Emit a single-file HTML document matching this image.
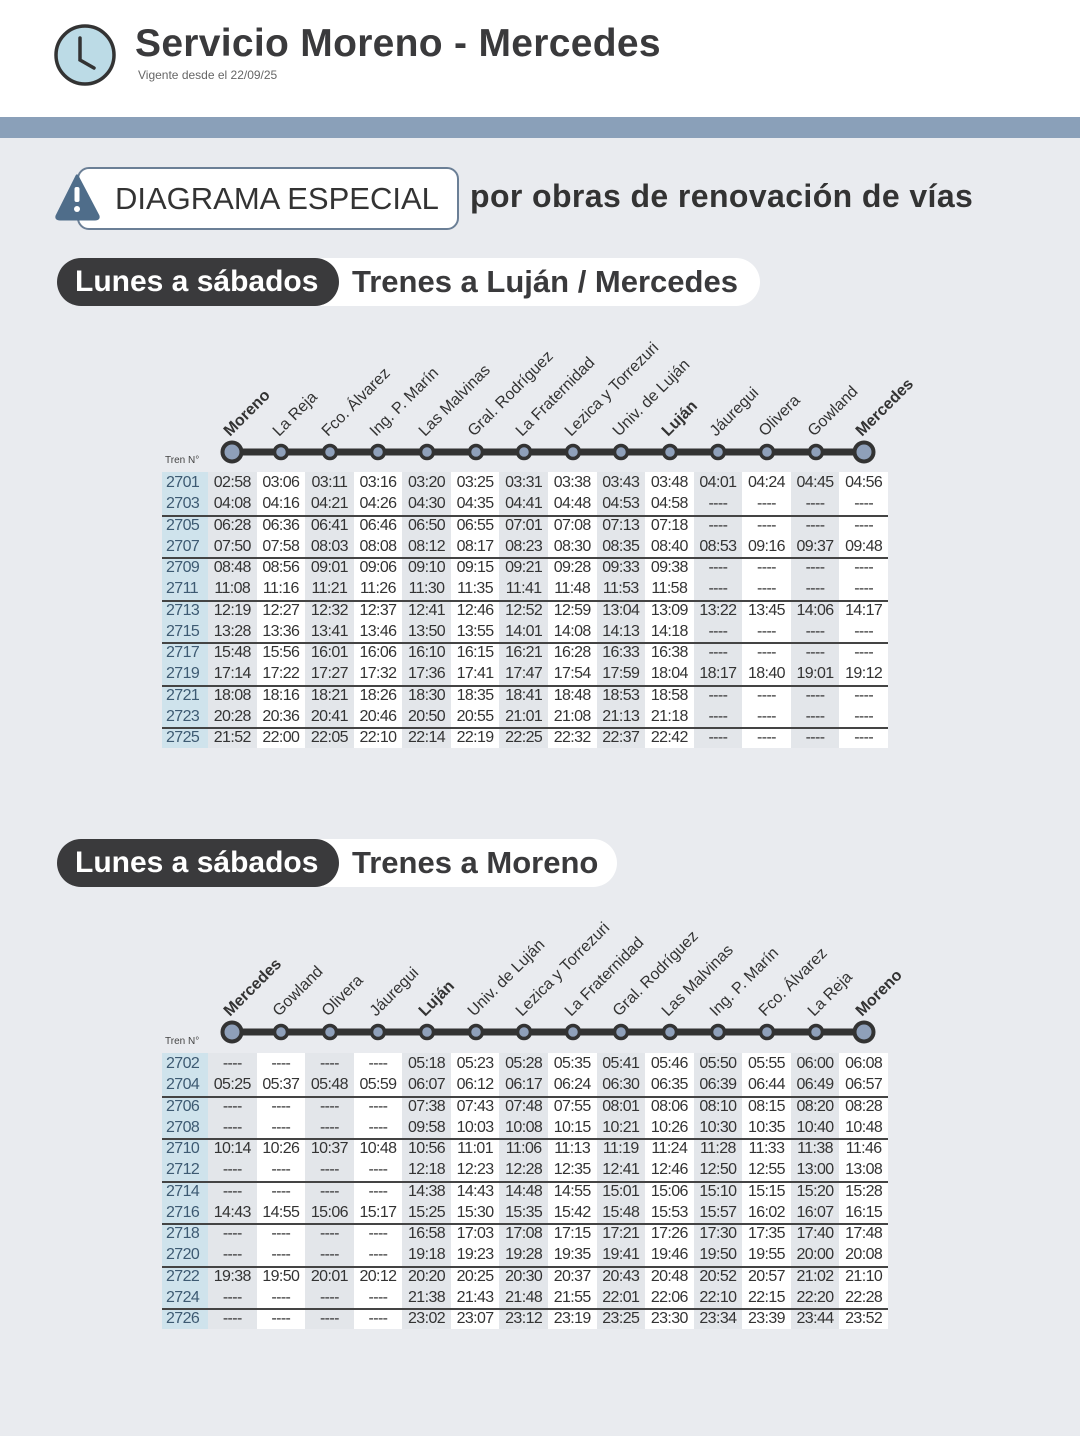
<!DOCTYPE html>
<html><head><meta charset="utf-8"><style>
*{margin:0;padding:0;box-sizing:border-box}
body{width:1080px;height:1436px;background:#e9ebef;position:relative;overflow:hidden;font-family:"Liberation Sans",sans-serif;color:#333}
.hdr{position:absolute;left:0;top:0;width:1080px;height:117px;background:#fff}
.band{position:absolute;left:0;top:117px;width:1080px;height:21px;background:#8aa0b9}
.title{position:absolute;left:135px;top:22px;font:bold 39px "Liberation Sans",sans-serif;color:#3a3a3c;letter-spacing:0.3px}
.sub{position:absolute;left:138px;top:68px;font:12px "Liberation Sans",sans-serif;color:#666}
.box{position:absolute;left:77px;top:167px;width:382px;height:63px;border:2px solid #6b7f96;border-radius:12px;background:#fff;font:31px "Liberation Sans",sans-serif;line-height:59px;padding-left:36px;color:#333;white-space:nowrap}
.por{position:absolute;left:470px;top:178px;font:bold 32px "Liberation Sans",sans-serif;color:#333;letter-spacing:0.4px;white-space:nowrap}
.wp{position:absolute;height:48px;background:#fff;border-radius:24px;font:bold 31px "Liberation Sans",sans-serif;line-height:48px;color:#3a3a3c;white-space:nowrap}
.dp{position:absolute;left:57px;width:282px;height:48px;background:#3a3a3c;border-radius:24px;font:bold 30px "Liberation Sans",sans-serif;line-height:48px;color:#fff;padding-left:18px;white-space:nowrap}
table{position:absolute;left:162px;border-collapse:collapse;table-layout:fixed;width:726px}
td{height:21.25px;padding:0;font-size:16px;letter-spacing:-0.6px;line-height:21px;text-align:center;background:#fff;white-space:nowrap;color:#333}
td:nth-child(1){width:46px;background:#cfe3ec;color:#3d5a72;text-align:left;padding-left:4px}
td:nth-child(even){background:#e3e6ea}
tr.s td{box-shadow:inset 0 2px #444}
.tn{position:absolute;left:165px;font:10px "Liberation Sans",sans-serif;color:#444}
svg{position:absolute;left:0;top:0}
svg text{font-family:"Liberation Sans",sans-serif;font-size:16px;fill:#333}
</style></head><body>
<div class="hdr"></div><div class="band"></div>
<div class="title">Servicio Moreno - Mercedes</div>
<div class="sub">Vigente desde el 22/09/25</div>
<div class="box">DIAGRAMA ESPECIAL</div>
<div class="por">por obras de renovación de vías</div>
<div class="wp" style="left:300px;top:258px;width:460px;padding-left:52px">Trenes a Luján / Mercedes</div>
<div class="dp" style="top:258px">Lunes a sábados</div>
<div class="wp" style="left:300px;top:839px;width:317px;padding-left:52px">Trenes a Moreno</div>
<div class="dp" style="top:839px">Lunes a sábados</div>
<div class="tn" style="top:455px">Tren N°</div>
<div class="tn" style="top:1036px">Tren N°</div>

<svg width="1080" height="1436" viewBox="0 0 1080 1436">
<circle cx="85" cy="55" r="29" fill="#bcdbe6" stroke="#333" stroke-width="3.5"/>
<path d="M80 38 V60 L94 68" fill="none" stroke="#333" stroke-width="3.5" stroke-linecap="round"/>
<path d="M77 176 L98 216 Q99 219 95 219 L60 219 Q56 219 57 216 Z" fill="#4f6d8a" stroke="#4f6d8a" stroke-width="3" stroke-linejoin="round"/>
<rect x="74.5" y="187" width="5" height="15" rx="2" fill="#fff"/><circle cx="77" cy="209" r="3" fill="#fff"/>

<line x1="232" y1="452" x2="864" y2="452" stroke="#333" stroke-width="7"/>
<g fill="#8fa0ba" stroke="#333" stroke-width="3.5">
<circle cx="232" cy="452" r="9.5" stroke-width="4"/><circle cx="281" cy="452" r="6.5"/><circle cx="330" cy="452" r="6.5"/><circle cx="378" cy="452" r="6.5"/><circle cx="427" cy="452" r="6.5"/><circle cx="476" cy="452" r="6.5"/><circle cx="524" cy="452" r="6.5"/><circle cx="573" cy="452" r="6.5"/><circle cx="621" cy="452" r="6.5"/><circle cx="670" cy="452" r="6.5"/><circle cx="718" cy="452" r="6.5"/><circle cx="767" cy="452" r="6.5"/><circle cx="816" cy="452" r="6.5"/><circle cx="864" cy="452" r="9.5" stroke-width="4"/>
</g>
<text transform="translate(230,437) rotate(-45)" font-weight="bold">Moreno</text>
<text transform="translate(279,437) rotate(-45)">La Reja</text>
<text transform="translate(328,437) rotate(-45)">Fco. Álvarez</text>
<text transform="translate(376,437) rotate(-45)">Ing. P. Marín</text>
<text transform="translate(425,437) rotate(-45)">Las Malvinas</text>
<text transform="translate(474,437) rotate(-45)">Gral. Rodríguez</text>
<text transform="translate(522,437) rotate(-45)">La Fraternidad</text>
<text transform="translate(571,437) rotate(-45)">Lezica y Torrezuri</text>
<text transform="translate(619,437) rotate(-45)">Univ. de Luján</text>
<text transform="translate(668,437) rotate(-45)" font-weight="bold">Luján</text>
<text transform="translate(716,437) rotate(-45)">Jáuregui</text>
<text transform="translate(765,437) rotate(-45)">Olivera</text>
<text transform="translate(814,437) rotate(-45)">Gowland</text>
<text transform="translate(862,437) rotate(-45)" font-weight="bold">Mercedes</text>

<line x1="232" y1="1032" x2="864" y2="1032" stroke="#333" stroke-width="7"/>
<g fill="#8fa0ba" stroke="#333" stroke-width="3.5">
<circle cx="232" cy="1032" r="9.5" stroke-width="4"/><circle cx="281" cy="1032" r="6.5"/><circle cx="330" cy="1032" r="6.5"/><circle cx="378" cy="1032" r="6.5"/><circle cx="427" cy="1032" r="6.5"/><circle cx="476" cy="1032" r="6.5"/><circle cx="524" cy="1032" r="6.5"/><circle cx="573" cy="1032" r="6.5"/><circle cx="621" cy="1032" r="6.5"/><circle cx="670" cy="1032" r="6.5"/><circle cx="718" cy="1032" r="6.5"/><circle cx="767" cy="1032" r="6.5"/><circle cx="816" cy="1032" r="6.5"/><circle cx="864" cy="1032" r="9.5" stroke-width="4"/>
</g>
<text transform="translate(230,1017) rotate(-45)" font-weight="bold">Mercedes</text>
<text transform="translate(279,1017) rotate(-45)">Gowland</text>
<text transform="translate(328,1017) rotate(-45)">Olivera</text>
<text transform="translate(376,1017) rotate(-45)">Jáuregui</text>
<text transform="translate(425,1017) rotate(-45)" font-weight="bold">Luján</text>
<text transform="translate(474,1017) rotate(-45)">Univ. de Luján</text>
<text transform="translate(522,1017) rotate(-45)">Lezica y Torrezuri</text>
<text transform="translate(571,1017) rotate(-45)">La Fraternidad</text>
<text transform="translate(619,1017) rotate(-45)">Gral. Rodríguez</text>
<text transform="translate(668,1017) rotate(-45)">Las Malvinas</text>
<text transform="translate(716,1017) rotate(-45)">Ing. P. Marín</text>
<text transform="translate(765,1017) rotate(-45)">Fco. Álvarez</text>
<text transform="translate(814,1017) rotate(-45)">La Reja</text>
<text transform="translate(862,1017) rotate(-45)" font-weight="bold">Moreno</text>
</svg>

<table style="top:472px">
<tr><td>2701</td><td>02:58</td><td>03:06</td><td>03:11</td><td>03:16</td><td>03:20</td><td>03:25</td><td>03:31</td><td>03:38</td><td>03:43</td><td>03:48</td><td>04:01</td><td>04:24</td><td>04:45</td><td>04:56</td></tr>
<tr><td>2703</td><td>04:08</td><td>04:16</td><td>04:21</td><td>04:26</td><td>04:30</td><td>04:35</td><td>04:41</td><td>04:48</td><td>04:53</td><td>04:58</td><td>----</td><td>----</td><td>----</td><td>----</td></tr>
<tr class="s"><td>2705</td><td>06:28</td><td>06:36</td><td>06:41</td><td>06:46</td><td>06:50</td><td>06:55</td><td>07:01</td><td>07:08</td><td>07:13</td><td>07:18</td><td>----</td><td>----</td><td>----</td><td>----</td></tr>
<tr><td>2707</td><td>07:50</td><td>07:58</td><td>08:03</td><td>08:08</td><td>08:12</td><td>08:17</td><td>08:23</td><td>08:30</td><td>08:35</td><td>08:40</td><td>08:53</td><td>09:16</td><td>09:37</td><td>09:48</td></tr>
<tr class="s"><td>2709</td><td>08:48</td><td>08:56</td><td>09:01</td><td>09:06</td><td>09:10</td><td>09:15</td><td>09:21</td><td>09:28</td><td>09:33</td><td>09:38</td><td>----</td><td>----</td><td>----</td><td>----</td></tr>
<tr><td>2711</td><td>11:08</td><td>11:16</td><td>11:21</td><td>11:26</td><td>11:30</td><td>11:35</td><td>11:41</td><td>11:48</td><td>11:53</td><td>11:58</td><td>----</td><td>----</td><td>----</td><td>----</td></tr>
<tr class="s"><td>2713</td><td>12:19</td><td>12:27</td><td>12:32</td><td>12:37</td><td>12:41</td><td>12:46</td><td>12:52</td><td>12:59</td><td>13:04</td><td>13:09</td><td>13:22</td><td>13:45</td><td>14:06</td><td>14:17</td></tr>
<tr><td>2715</td><td>13:28</td><td>13:36</td><td>13:41</td><td>13:46</td><td>13:50</td><td>13:55</td><td>14:01</td><td>14:08</td><td>14:13</td><td>14:18</td><td>----</td><td>----</td><td>----</td><td>----</td></tr>
<tr class="s"><td>2717</td><td>15:48</td><td>15:56</td><td>16:01</td><td>16:06</td><td>16:10</td><td>16:15</td><td>16:21</td><td>16:28</td><td>16:33</td><td>16:38</td><td>----</td><td>----</td><td>----</td><td>----</td></tr>
<tr><td>2719</td><td>17:14</td><td>17:22</td><td>17:27</td><td>17:32</td><td>17:36</td><td>17:41</td><td>17:47</td><td>17:54</td><td>17:59</td><td>18:04</td><td>18:17</td><td>18:40</td><td>19:01</td><td>19:12</td></tr>
<tr class="s"><td>2721</td><td>18:08</td><td>18:16</td><td>18:21</td><td>18:26</td><td>18:30</td><td>18:35</td><td>18:41</td><td>18:48</td><td>18:53</td><td>18:58</td><td>----</td><td>----</td><td>----</td><td>----</td></tr>
<tr><td>2723</td><td>20:28</td><td>20:36</td><td>20:41</td><td>20:46</td><td>20:50</td><td>20:55</td><td>21:01</td><td>21:08</td><td>21:13</td><td>21:18</td><td>----</td><td>----</td><td>----</td><td>----</td></tr>
<tr class="s"><td>2725</td><td>21:52</td><td>22:00</td><td>22:05</td><td>22:10</td><td>22:14</td><td>22:19</td><td>22:25</td><td>22:32</td><td>22:37</td><td>22:42</td><td>----</td><td>----</td><td>----</td><td>----</td></tr>
</table>

<table style="top:1053px">
<tr><td>2702</td><td>----</td><td>----</td><td>----</td><td>----</td><td>05:18</td><td>05:23</td><td>05:28</td><td>05:35</td><td>05:41</td><td>05:46</td><td>05:50</td><td>05:55</td><td>06:00</td><td>06:08</td></tr>
<tr><td>2704</td><td>05:25</td><td>05:37</td><td>05:48</td><td>05:59</td><td>06:07</td><td>06:12</td><td>06:17</td><td>06:24</td><td>06:30</td><td>06:35</td><td>06:39</td><td>06:44</td><td>06:49</td><td>06:57</td></tr>
<tr class="s"><td>2706</td><td>----</td><td>----</td><td>----</td><td>----</td><td>07:38</td><td>07:43</td><td>07:48</td><td>07:55</td><td>08:01</td><td>08:06</td><td>08:10</td><td>08:15</td><td>08:20</td><td>08:28</td></tr>
<tr><td>2708</td><td>----</td><td>----</td><td>----</td><td>----</td><td>09:58</td><td>10:03</td><td>10:08</td><td>10:15</td><td>10:21</td><td>10:26</td><td>10:30</td><td>10:35</td><td>10:40</td><td>10:48</td></tr>
<tr class="s"><td>2710</td><td>10:14</td><td>10:26</td><td>10:37</td><td>10:48</td><td>10:56</td><td>11:01</td><td>11:06</td><td>11:13</td><td>11:19</td><td>11:24</td><td>11:28</td><td>11:33</td><td>11:38</td><td>11:46</td></tr>
<tr><td>2712</td><td>----</td><td>----</td><td>----</td><td>----</td><td>12:18</td><td>12:23</td><td>12:28</td><td>12:35</td><td>12:41</td><td>12:46</td><td>12:50</td><td>12:55</td><td>13:00</td><td>13:08</td></tr>
<tr class="s"><td>2714</td><td>----</td><td>----</td><td>----</td><td>----</td><td>14:38</td><td>14:43</td><td>14:48</td><td>14:55</td><td>15:01</td><td>15:06</td><td>15:10</td><td>15:15</td><td>15:20</td><td>15:28</td></tr>
<tr><td>2716</td><td>14:43</td><td>14:55</td><td>15:06</td><td>15:17</td><td>15:25</td><td>15:30</td><td>15:35</td><td>15:42</td><td>15:48</td><td>15:53</td><td>15:57</td><td>16:02</td><td>16:07</td><td>16:15</td></tr>
<tr class="s"><td>2718</td><td>----</td><td>----</td><td>----</td><td>----</td><td>16:58</td><td>17:03</td><td>17:08</td><td>17:15</td><td>17:21</td><td>17:26</td><td>17:30</td><td>17:35</td><td>17:40</td><td>17:48</td></tr>
<tr><td>2720</td><td>----</td><td>----</td><td>----</td><td>----</td><td>19:18</td><td>19:23</td><td>19:28</td><td>19:35</td><td>19:41</td><td>19:46</td><td>19:50</td><td>19:55</td><td>20:00</td><td>20:08</td></tr>
<tr class="s"><td>2722</td><td>19:38</td><td>19:50</td><td>20:01</td><td>20:12</td><td>20:20</td><td>20:25</td><td>20:30</td><td>20:37</td><td>20:43</td><td>20:48</td><td>20:52</td><td>20:57</td><td>21:02</td><td>21:10</td></tr>
<tr><td>2724</td><td>----</td><td>----</td><td>----</td><td>----</td><td>21:38</td><td>21:43</td><td>21:48</td><td>21:55</td><td>22:01</td><td>22:06</td><td>22:10</td><td>22:15</td><td>22:20</td><td>22:28</td></tr>
<tr class="s"><td>2726</td><td>----</td><td>----</td><td>----</td><td>----</td><td>23:02</td><td>23:07</td><td>23:12</td><td>23:19</td><td>23:25</td><td>23:30</td><td>23:34</td><td>23:39</td><td>23:44</td><td>23:52</td></tr>
</table>
</body></html>
